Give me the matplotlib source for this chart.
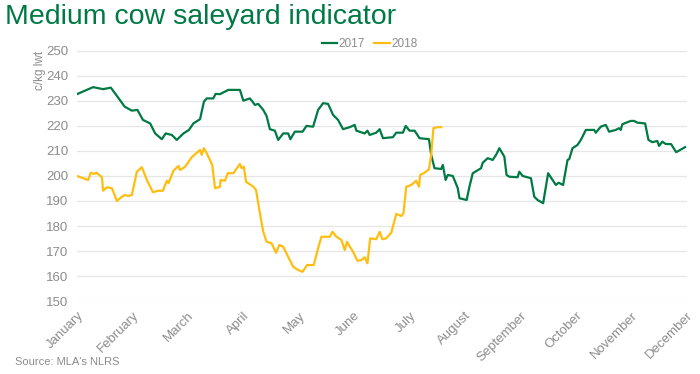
import matplotlib
matplotlib.use('Agg')
import matplotlib.pyplot as plt

plt.rcParams['font.family'] = ['Liberation Sans', 'DejaVu Sans']

MONTHS = ['January', 'February', 'March', 'April', 'May', 'June', 'July',
          'August', 'September', 'October', 'November', 'December']

# x positions in months since 1 January (0 = January tick, 11 = December tick)
x_2017 = [0.0, 0.29, 0.47, 0.61, 0.72, 0.86, 0.99, 1.09, 1.19, 1.32, 1.41, 1.53, 1.60, 1.71,
          1.80, 1.92, 2.02, 2.10, 2.22, 2.29, 2.34, 2.46, 2.50, 2.58, 2.73, 2.94, 3.00, 3.12,
          3.21, 3.27, 3.36, 3.42, 3.48, 3.57, 3.63, 3.72, 3.81, 3.85, 3.93, 4.07, 4.14, 4.26,
          4.35, 4.44, 4.53, 4.62, 4.71, 4.80, 4.92, 5.01, 5.04, 5.19, 5.24, 5.28, 5.40, 5.46,
          5.52, 5.70, 5.76, 5.88, 5.93, 6.00, 6.09, 6.18, 6.35, 6.39, 6.45, 6.57, 6.60, 6.65,
          6.69, 6.78, 6.87, 6.90, 7.03, 7.08, 7.14, 7.29, 7.32, 7.41, 7.50, 7.56, 7.62, 7.71,
          7.75, 7.80, 7.95, 7.98, 8.04, 8.19, 8.25, 8.31, 8.41, 8.50, 8.58, 8.64, 8.69, 8.77,
          8.85, 8.88, 8.94, 9.03, 9.09, 9.18, 9.33, 9.36, 9.45, 9.54, 9.60, 9.72, 9.78, 9.81,
          9.84, 9.99, 10.05, 10.11, 10.25, 10.31, 10.38, 10.47, 10.50, 10.56, 10.62, 10.72,
          10.81, 10.97]
y_2017 = [232.7, 235.5, 234.7, 235.3, 232.0, 227.7, 226.1, 226.4, 222.4, 221.0, 217.0, 214.7,
          217.0, 216.4, 214.4, 217.0, 218.4, 221.0, 222.7, 229.7, 231.0, 231.0, 232.8, 232.7,
          234.4, 234.4, 230.1, 231.0, 228.4, 228.8, 226.4, 224.0, 218.7, 218.1, 214.4, 217.0,
          217.0, 214.7, 217.7, 217.7, 220.0, 219.7, 226.4, 229.1, 228.8, 224.4, 222.4, 218.7,
          219.5, 220.4, 218.1, 217.0, 218.1, 216.4, 217.3, 218.7, 215.1, 215.5, 217.3, 217.3,
          220.0, 218.1, 218.1, 215.1, 214.7, 208.4, 203.1, 202.8, 204.4, 198.4, 200.4, 200.0,
          195.1, 191.1, 190.4, 195.7, 201.1, 203.1, 205.3, 207.1, 206.4, 208.4, 211.1, 207.7,
          200.4, 199.7, 199.5, 201.7, 200.0, 199.1, 191.7, 190.4, 189.1, 201.1, 198.4, 196.4,
          197.3, 196.4, 206.4, 206.7, 211.1, 212.4, 214.4, 218.4, 218.4, 217.3, 219.7, 220.4,
          217.7, 218.4, 219.1, 218.4, 220.7, 222.0, 222.0, 221.3, 221.0, 214.4, 213.5, 214.0,
          212.0, 213.7, 212.8, 212.7, 209.5, 211.5]

x_2018 = [0.0, 0.20, 0.25, 0.31, 0.35, 0.45, 0.47, 0.54, 0.63, 0.72, 0.81, 0.86, 0.92, 0.99,
          1.08, 1.17, 1.26, 1.37, 1.46, 1.55, 1.62, 1.65, 1.74, 1.83, 1.86, 1.95, 2.07, 2.22,
          2.25, 2.29, 2.34, 2.44, 2.49, 2.58, 2.59, 2.67, 2.72, 2.82, 2.94, 2.97, 3.01, 3.05,
          3.18, 3.23, 3.30, 3.36, 3.42, 3.51, 3.59, 3.65, 3.72, 3.81, 3.90, 3.99, 4.07, 4.15,
          4.27, 4.35, 4.41, 4.56, 4.61, 4.68, 4.77, 4.83, 4.87, 4.98, 5.06, 5.13, 5.19, 5.24,
          5.29, 5.40, 5.46, 5.51, 5.58, 5.67, 5.76, 5.85, 5.89, 5.94, 6.03, 6.12, 6.17, 6.19,
          6.27, 6.35, 6.39, 6.43, 6.51, 6.57]
y_2018 = [200.0, 198.4, 201.3, 200.8, 201.3, 199.5, 194.1, 195.5, 195.1, 190.0, 191.7, 192.4,
          192.0, 192.4, 201.7, 203.5, 198.4, 193.5, 194.1, 194.1, 198.1, 197.1, 202.1, 204.0,
          202.4, 203.7, 207.5, 210.4, 208.4, 211.1, 209.1, 204.4, 195.1, 195.7, 198.4, 198.1,
          201.1, 201.1, 204.8, 203.1, 203.7, 197.7, 195.7, 194.4, 185.1, 177.7, 173.7, 173.1,
          169.3, 172.4, 171.7, 167.7, 163.7, 162.4, 161.7, 164.4, 164.4, 171.1, 175.7, 175.7,
          177.7, 175.7, 174.4, 170.4, 173.7, 169.7, 166.1, 166.4, 167.5, 165.1, 175.1, 174.7,
          177.7, 174.7, 175.1, 177.3, 184.8, 184.0, 185.1, 195.7, 196.4, 198.1, 195.7, 200.4,
          201.3, 202.7, 208.4, 219.1, 219.5, 219.5]

GREEN = '#007A45'
GOLD = '#FFBE0F'
GREY = '#8C8C8C'

fig = plt.figure(figsize=(7, 3.74), dpi=100)
ax = fig.add_axes([0.11, 0.195, 0.871, 0.669])

ax.plot(x_2017, y_2017, color=GREEN, lw=1.6, label='2017')
ax.plot(x_2018, y_2018, color=GOLD, lw=1.6, label='2018')

ax.set_xlim(0, 11)
ax.set_ylim(150, 250)
ax.set_yticks(range(150, 251, 10))
ax.set_xticks(range(len(MONTHS)))
ax.set_xticklabels(MONTHS, rotation=45, ha='right', va='top', rotation_mode='anchor')
ax.grid(axis='y', color='#E6E6E6', lw=0.9)
ax.set_axisbelow(True)
for s in ax.spines.values():
    s.set_visible(False)
ax.tick_params(length=0, colors=GREY, labelsize=9.5)
ax.tick_params(axis='y', pad=6)
ax.tick_params(axis='x', pad=6)
ax.set_ylabel('c/kg lwt', color=GREY, fontsize=8.5, loc='top', labelpad=0)

ax.legend(loc='lower center', bbox_to_anchor=(0.48, 0.985), ncol=2, frameon=False,
          fontsize=8.5, labelcolor=GREY, handlelength=1.3, handletextpad=0.1,
          columnspacing=0.8, borderaxespad=0)

fig.text(0.007, 0.99, 'Medium cow saleyard indicator', color=GREEN, fontsize=20.5,
         ha='left', va='top')
fig.text(0.021, 0.02, "Source: MLA's NLRS", color=GREY, fontsize=8, ha='left', va='bottom')

fig.savefig('out.png', dpi=100)
